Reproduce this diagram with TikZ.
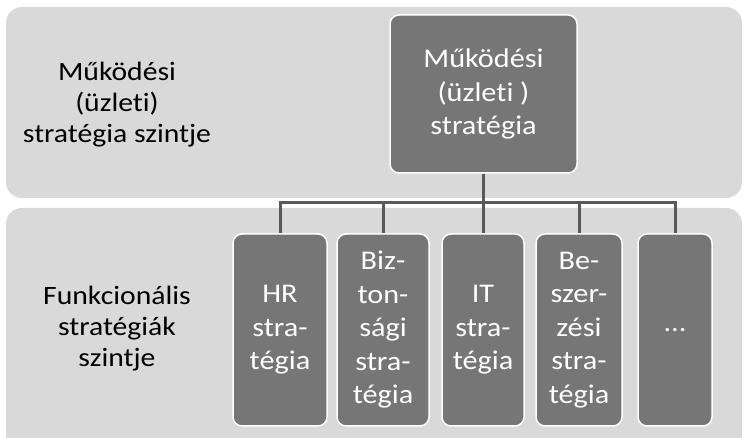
\documentclass[tikz,border=0pt]{standalone}
\usepackage{fontspec}
\setmainfont{Carlito}[FakeStretch=1.12, Ligatures=NoCommon]
\usetikzlibrary{positioning}
\definecolor{bandgray}{HTML}{D9D9D9}
\definecolor{boxgray}{HTML}{767676}
\definecolor{linegray}{HTML}{595959}

\begin{document}
\begin{tikzpicture}[x=1pt, y=1pt,
        band/.style={fill=bandgray, rounded corners=16pt},
        box/.style={draw=white, line width=1.5pt, fill=boxgray, rounded corners=9pt,
                    text=white, align=center, inner sep=0pt,
                    font=\fontsize{27}{33.5}\selectfont},
        kid/.style={box, minimum height=192pt},
        lvl/.style={align=center, font=\fontsize{26.5}{31}\selectfont},
        conn/.style={draw=linegray, line width=3pt}]
        \useasboundingbox (0,0) rectangle (743,438);
        % the two levels
        \fill[band] (6,240) rectangle (742,431);
        \fill[band] (6,-20) rectangle (742,230);
        \node[lvl]  (lvl_top) at (117,333) {Működési\\(üzleti)\\stratégia szintje};
        \node[lvl]  (lvl_fun) at (117,109) {Funkcionális\\stratégiák\\szintje};
        % boxes
        \node[box, minimum width=187pt, minimum height=158pt]
                    (top) at (483.5,344) {Működési\\(üzleti )\\stratégia};
        \node[kid, minimum width=94pt] (c_1) at (280,108) {HR\\stra-\\tégia};
        \node[kid, minimum width=92pt] (c_2) at (383,108) {Biz-\\ton-\\sági\\stra-\\tégia};
        \node[kid, minimum width=82pt] (c_3) at (483,108) {IT\\stra-\\tégia};
        \node[kid, minimum width=86pt] (c_4) at (579,108) {Be-\\szer-\\zési\\stra-\\tégia};
        \node[kid, minimum width=74pt] (c_5) at (675,108) {...};
        % tree lines
        \coordinate (bus) at (0,235);
        \foreach \k in {1,...,5}
          \draw[conn] (top.south) -- (top.south |- bus) -| (c_\k.north);
\end{tikzpicture}
\end{document}
